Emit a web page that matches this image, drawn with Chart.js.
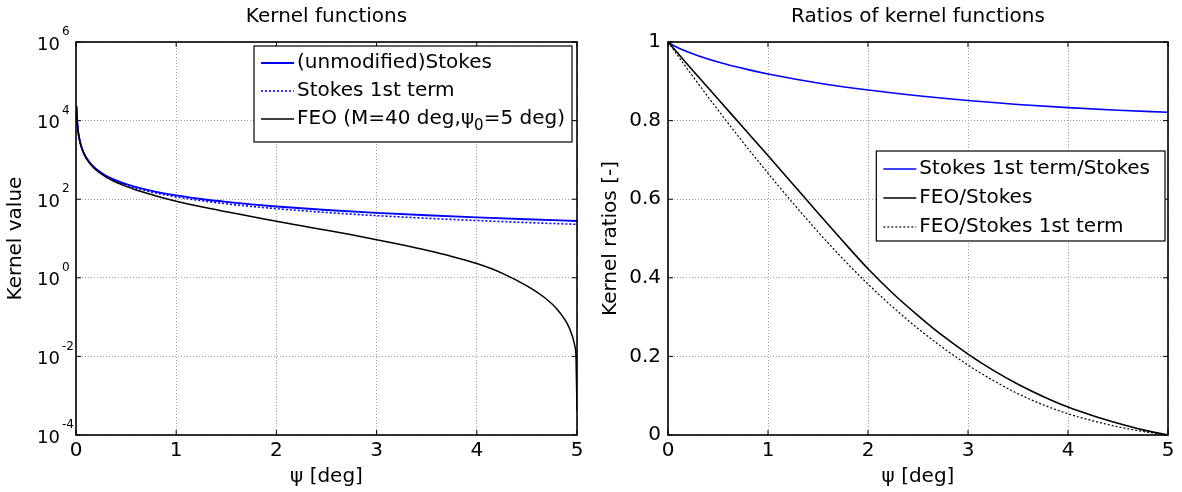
<!DOCTYPE html>
<html>
<head>
<meta charset="utf-8">
<script src="https://cdn.jsdelivr.net/npm/chart.js@4.4.1/dist/chart.umd.min.js"></script>
<style>
  html, body { margin: 0; padding: 0; background: #fff; }
  #wrap { position: relative; width: 1182px; height: 492px; }
  canvas { position: absolute; top: 0; }
  #left { left: 0; }
  #right { left: 591px; }
</style>
</head>
<body>
<div id="wrap">
  <canvas id="left" width="591" height="492"></canvas>
  <canvas id="right" width="591" height="492"></canvas>
</div>
<script>
// left panel: kernel values (log scale)
const stokesPsi = [0.005, 0.01, 0.02, 0.03, 0.05, 0.075, 0.1, 0.15, 0.2, 0.3, 0.4, 0.5, 0.6, 0.8, 1, 1.25, 1.5, 1.75, 2, 2.5, 3, 3.5, 4, 4.5, 5];
const stokes = [22944, 11483, 5752, 3840, 2311, 1546, 1163, 779.8, 588.0, 395.8, 299.4, 241.4, 202.7, 154.1, 124.7, 101.1, 85.28, 73.88, 65.28, 53.11, 44.89, 38.93, 34.40, 30.82, 27.92];
const stokes1st = [22918, 11459, 5730, 3820, 2292, 1528, 1146, 763.9, 573.0, 382.0, 286.5, 229.2, 191.0, 143.2, 114.6, 91.67, 76.39, 65.48, 57.30, 45.84, 38.20, 32.75, 28.65, 25.47, 22.93];
const feoPsi = [0.005, 0.01, 0.02, 0.03, 0.05, 0.075, 0.1, 0.15, 0.2, 0.3, 0.4, 0.5, 0.6, 0.8, 1, 1.25, 1.5, 1.75, 2, 2.25, 2.5, 2.75, 3, 3.25, 3.5, 3.75, 4, 4.25, 4.5, 4.7, 4.8, 4.9, 4.95, 4.98, 4.99, 5];
const feo = [22900, 11450, 5720, 3810, 2285, 1520, 1130, 748, 555, 365, 270, 212, 172, 121, 89, 64, 48, 36.5, 27.3, 21.0, 16.2, 12.4, 9.3, 6.9, 5.0, 3.5, 2.3, 1.32, 0.62, 0.28, 0.16, 0.07, 0.035, 0.0176, 0.01, 0.0004];
const logTicks = [1e-4, 1e-2, 1, 1e2, 1e4, 1e6];

// right panel: ratios
const ratioPsi = [0, 0.02, 0.05, 0.1, 0.2, 0.3, 0.5, 0.8, 1, 1.5, 2, 2.5, 3, 3.5, 4, 4.5, 5];
const ratioS1S = [1, 0.9962, 0.9917, 0.9853, 0.9744, 0.9651, 0.9492, 0.9297, 0.9187, 0.8958, 0.8777, 0.8631, 0.8510, 0.8411, 0.8330, 0.8264, 0.8212];
const feoRatioPsi = [0, 0.25, 0.5, 0.75, 1, 1.25, 1.5, 1.75, 2, 2.25, 2.5, 2.75, 3, 3.25, 3.5, 3.75, 4, 4.25, 4.5, 4.75, 5];
const ratioFeoS = [1, 0.927, 0.855, 0.783, 0.711, 0.638, 0.565, 0.493, 0.423, 0.360, 0.304, 0.252, 0.206, 0.165, 0.129, 0.098, 0.071, 0.049, 0.030, 0.013, 0];
const ratioFeoS1 = [1, 0.912, 0.827, 0.745, 0.666, 0.590, 0.517, 0.448, 0.384, 0.325, 0.271, 0.222, 0.178, 0.139, 0.105, 0.077, 0.054, 0.036, 0.021, 0.009, 0];

const FONT = "'DejaVu Sans', 'Liberation Sans', Arial, sans-serif";
const BLUE = '#0000ff';
const GRID = '#a0a0a0';
Chart.defaults.font.family = FONT;
Chart.defaults.color = '#000';

const pts = (xs, ys) => xs.map((x, i) => ({ x, y: ys[i] }));

// draw text with "_0" style subscripts
function richText(ctx, text, x, y, size) {
  const parts = text.split(/_(\d)/);
  let cx = x;
  parts.forEach((p, i) => {
    if (i % 2 === 1) {
      ctx.font = Math.round(size * 0.75) + 'px ' + FONT;
      ctx.fillText(p, cx, y + size * 0.35);
    } else {
      ctx.font = size + 'px ' + FONT;
      ctx.fillText(p, cx, y);
    }
    cx += ctx.measureText(p).width;
  });
  return cx - x;
}

const framePlugin = {
  id: 'frame',
  afterDraw(chart) {
    const { ctx, chartArea: a, scales } = chart;
    ctx.save();
    ctx.strokeStyle = '#000';
    ctx.lineWidth = 1;
    const tl = 5;
    ctx.beginPath();
    scales.x.ticks.forEach(t => {
      const px = scales.x.getPixelForValue(t.value);
      ctx.moveTo(px, a.bottom); ctx.lineTo(px, a.bottom - tl);
      ctx.moveTo(px, a.top); ctx.lineTo(px, a.top + tl);
    });
    scales.y.ticks.forEach(t => {
      const py = scales.y.getPixelForValue(t.value);
      ctx.moveTo(a.left, py); ctx.lineTo(a.left + tl, py);
      ctx.moveTo(a.right, py); ctx.lineTo(a.right - tl, py);
    });
    ctx.stroke();
    ctx.lineWidth = 1.6;
    ctx.strokeRect(a.left, a.top, a.right - a.left, a.bottom - a.top);
    ctx.restore();
  }
};

const powerLabels = {
  id: 'powerLabels',
  afterDraw(chart, args, opts) {
    if (!opts.on) return;
    const { ctx, chartArea: a, scales } = chart;
    ctx.save();
    ctx.fillStyle = '#000';
    ctx.textBaseline = 'middle';
    scales.y.ticks.forEach(t => {
      const py = scales.y.getPixelForValue(t.value);
      const e = Math.round(Math.log10(t.value));
      ctx.font = '18px ' + FONT;
      ctx.textAlign = 'right';
      ctx.fillText('10', a.left - 16, py + 3);
      ctx.font = '12px ' + FONT;
      ctx.textAlign = 'left';
      ctx.fillText(String(e), a.left - 14, py - 10);
    });
    ctx.restore();
  }
};

const boxLegend = {
  id: 'boxLegend',
  afterDraw(chart, args, opts) {
    const { ctx, chartArea: a } = chart;
    const size = opts.size;
    ctx.save();
    ctx.textBaseline = 'middle';
    ctx.textAlign = 'left';
    const items = chart.data.datasets;
    let maxW = 0;
    items.forEach(d => {
      const w = richText(ctx, d.label, -9999, -9999, size);
      maxW = Math.max(maxW, w);
    });
    const w = 43 + maxW + 7 + (opts.extra || 0);
    const right = a.right - opts.right;
    const left = right - w;
    const top = a.top + opts.top;
    ctx.fillStyle = '#fff';
    ctx.fillRect(left, top, w, opts.height);
    ctx.strokeStyle = '#000';
    ctx.lineWidth = 1.2;
    ctx.strokeRect(left, top, w, opts.height);
    items.forEach((d, i) => {
      const y = top + opts.first + i * opts.rowH;
      ctx.beginPath();
      ctx.strokeStyle = d.borderColor;
      ctx.lineWidth = d.borderWidth;
      ctx.setLineDash(d.borderDash || []);
      ctx.moveTo(left + 7, y);
      ctx.lineTo(left + 40, y);
      ctx.stroke();
      ctx.setLineDash([]);
      ctx.fillStyle = '#000';
      richText(ctx, d.label, left + 43, y, size);
    });
    ctx.restore();
  }
};

function baseOptions(title, yTitle, yTitlePad, yAxis, legend, power) {
  return {
    responsive: false,
    animation: false,
    layout: { padding: { left: 0, right: 14, top: 0, bottom: 0 } },
    elements: { point: { radius: 0 }, line: { cubicInterpolationMode: 'monotone' } },
    plugins: {
      legend: { display: false },
      tooltip: { enabled: false },
      title: {
        display: true, text: title, fullSize: false, color: '#000',
        font: { size: 20, weight: 'normal' }, padding: { top: 5, bottom: 13 }
      },
      boxLegend: legend,
      powerLabels: { on: power }
    },
    scales: {
      x: {
        type: 'linear', min: 0, max: 5,
        afterFit: s => { s.height = 57; },
        ticks: { stepSize: 1, font: { size: 20 }, padding: 4, color: '#000' },
        grid: { color: GRID, drawTicks: false, lineWidth: 1 },
        border: { display: false, dash: [1, 2] },
        title: { display: true, text: 'ψ [deg]', font: { size: 20 }, padding: { top: 0, bottom: 3 }, color: '#000' }
      },
      y: Object.assign({
        afterFit: s => { s.width = power ? 76 : 77; },
        grid: { color: GRID, drawTicks: false, lineWidth: 1 },
        border: { display: false, dash: [1, 2] },
        title: { display: true, text: yTitle, font: { size: 20 }, padding: { top: yTitlePad, bottom: 0 }, color: '#000' }
      }, yAxis)
    }
  };
}

new Chart(document.getElementById('left'), {
  type: 'line',
  data: {
    datasets: [
      { label: '(unmodified)Stokes', data: pts(stokesPsi, stokes), borderColor: BLUE, borderWidth: 1.9, order: 3 },
      { label: 'Stokes 1st term', data: pts(stokesPsi, stokes1st), borderColor: BLUE, borderWidth: 1.6, borderDash: [2, 2], order: 2 },
      { label: 'FEO (M=40 deg,ψ_0=5 deg)', data: pts(feoPsi, feo), borderColor: '#000', borderWidth: 1.5, order: 1 }
    ]
  },
  options: baseOptions('Kernel functions', 'Kernel value', 4, {
    type: 'logarithmic', min: 1e-4, max: 1e6,
    afterBuildTicks: s => { s.ticks = logTicks.map(v => ({ value: v })); },
    ticks: { display: false }
  }, { size: 20, right: 5, top: 4, first: 17, rowH: 28, height: 96 }, true),
  plugins: [framePlugin, powerLabels, boxLegend]
});

new Chart(document.getElementById('right'), {
  type: 'line',
  data: {
    datasets: [
      { label: 'Stokes 1st term/Stokes', data: pts(ratioPsi, ratioS1S), borderColor: BLUE, borderWidth: 1.6, order: 3 },
      { label: 'FEO/Stokes', data: pts(feoRatioPsi, ratioFeoS), borderColor: '#000', borderWidth: 1.6, order: 2 },
      { label: 'FEO/Stokes 1st term', data: pts(feoRatioPsi, ratioFeoS1), borderColor: '#000', borderWidth: 1.2, borderDash: [2, 2], order: 1 }
    ]
  },
  options: baseOptions('Ratios of kernel functions', 'Kernel ratios [-]', 8, {
    type: 'linear', min: 0, max: 1,
    ticks: { stepSize: 0.2, font: { size: 20 }, padding: 7, color: '#000',
      callback: v => String(Number(v.toFixed(1))) }
  }, { size: 20, right: 3, top: 109, first: 18, rowH: 29, height: 90, extra: 8 }, false),
  plugins: [framePlugin, powerLabels, boxLegend]
});
</script>
</body>
</html>
